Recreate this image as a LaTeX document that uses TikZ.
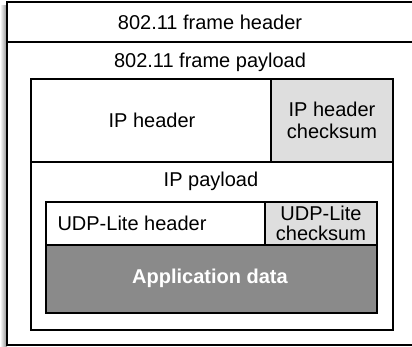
\documentclass[tikz,border=0pt]{standalone}
\usepackage{fontspec}
\setmainfont{Liberation Sans}
\definecolor{sumgray}{gray}{0.87}
\definecolor{appgray}{gray}{0.54}
\begin{document}
\begin{tikzpicture}[x=0.5pt,y=-0.5pt,line width=0.75pt,
        every node/.style={font=\fontsize{10}{11}\selectfont, inner sep=0pt},
        sumcell/.style={draw, fill=sumgray}]
    \useasboundingbox (0,0) rectangle (412,347);
    % frame with left shadow
    \shade[left color=white, right color=black!45] (0,6) rectangle (7,347);
    \draw[line width=1pt, fill=white] (7,2) rectangle (418,345);
    \draw[line width=1pt] (7,42) -- (418,42);
    \node at (210,22) (hdr) {802.11 frame header};
    \node at (210,62) (payload) {802.11 frame payload};
    % IP packet
    \draw[fill=white] (31,79) rectangle (393,330);
    \draw[sumcell] (271,79) rectangle (393,162);
    \draw (31,162) -- (271,162);
    \node at (152,120) (iphdr) {IP header};
    \node[align=center] at (332,120) (ipsum) {IP header\\checksum};
    \node at (211,181) (ippay) {IP payload};
    % UDP-Lite datagram
    \draw (46,202) rectangle (265,245);
    \draw[sumcell] (265,202) rectangle (377,245);
    \draw[fill=appgray] (46,245) rectangle (377,313);
    \node at (132,223) (udphdr) {UDP-Lite header};
    \node[align=center] at (321,223) (udpsum) {UDP-Lite\\[-1pt]checksum};
    \node[text=white, font=\fontsize{10}{11}\selectfont\bfseries] at (210,278) (appdata) {Application data};
\end{tikzpicture}
\end{document}
